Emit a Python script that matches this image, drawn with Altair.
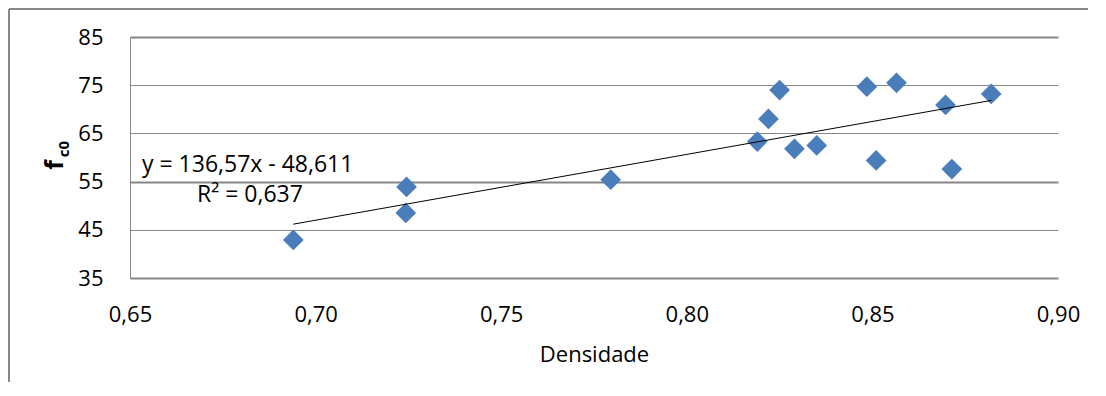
import altair as alt
import pandas as pd

# Data
densidade = [0.694, 0.7245, 0.7243, 0.7795, 0.819, 0.822, 0.825, 0.829, 0.835,
             0.8485, 0.851, 0.8565, 0.8697, 0.8714, 0.882]
fc0 = [42.9, 53.9, 48.5, 55.4, 63.3, 68.0, 74.0, 61.8, 62.5,
       74.7, 59.4, 75.5, 70.9, 57.6, 73.2]

slope = 136.57
intercept = -48.611
eq_text = "y = 136,57x - 48,611"
r2_text = "R² = 0,637"

x_ticks = [0.65, 0.70, 0.75, 0.80, 0.85, 0.90]
y_ticks = [35, 45, 55, 65, 75, 85]

FONT = "Open Sans"
GRID = "#868686"
BLUE = "#4a7ebb"

W, H = 928, 241

df = pd.DataFrame({"x": densidade, "y": fc0})
xmin, xmax = min(densidade), max(densidade)
trend = pd.DataFrame({"x": [xmin, xmax],
                      "y": [slope * xmin + intercept, slope * xmax + intercept]})

x_scale = alt.Scale(domain=[0.65, 0.90], nice=False, zero=False)
y_scale = alt.Scale(domain=[35, 85], nice=False, zero=False)

x_axis = alt.Axis(values=x_ticks, labelExpr="replace(format(datum.value, '.2f'), '.', ',')",
                  title="Densidade", domain=False, ticks=False, grid=False, labelFlush=False,
                  labelFont=FONT, labelFontSize=22, labelColor="black", labelPadding=26,
                  titleFont=FONT, titleFontSize=22, titleFontWeight="normal",
                  titleColor="black", titlePadding=19)
y_axis = alt.Axis(values=y_ticks, title=None, domain=True, domainColor=GRID, domainWidth=1,
                  ticks=False, grid=True, gridColor=GRID, labelFlush=False,
                  gridWidth={"condition": {"test": "datum.value == 85 || datum.value == 55 || datum.value == 35",
                                           "value": 2}, "value": 1},
                  gridOpacity=1,
                  labelFont=FONT, labelFontSize=22, labelColor="black", labelPadding=27)

points = alt.Chart(df).mark_point(shape="diamond", filled=True, size=430, color=BLUE, opacity=1).encode(
    x=alt.X("x:Q", scale=x_scale, axis=x_axis),
    y=alt.Y("y:Q", scale=y_scale, axis=y_axis),
)

line = alt.Chart(trend).mark_line(color="black", strokeWidth=1).encode(
    x=alt.X("x:Q", scale=x_scale), y=alt.Y("y:Q", scale=y_scale))

eq = alt.Chart(pd.DataFrame({"t": [eq_text]})).mark_text(
    font=FONT, fontSize=23, align="left", baseline="alphabetic", color="black").encode(
    text="t:N", x=alt.value(12), y=alt.value(135))
r2 = alt.Chart(pd.DataFrame({"t": [r2_text]})).mark_text(
    font=FONT, fontSize=23, align="left", baseline="alphabetic", color="black").encode(
    text="t:N", x=alt.value(67), y=alt.value(165))

ytitle_f = alt.Chart(pd.DataFrame({"t": ["f"]})).mark_text(
    font=FONT, fontSize=25, fontWeight="bold", angle=270, align="center", baseline="middle",
    color="black").encode(text="t:N", x=alt.value(-75), y=alt.value(128))
ytitle_sub = alt.Chart(pd.DataFrame({"t": ["c0"]})).mark_text(
    font=FONT, fontSize=15, fontWeight="bold", angle=270, align="center", baseline="middle",
    color="black").encode(text="t:N", x=alt.value(-66), y=alt.value(112))

frame_left = alt.Chart(pd.DataFrame({"a": [0]})).mark_rule(color=GRID, strokeWidth=2).encode(
    x=alt.value(-121), y=alt.value(-28), y2=alt.value(400))
frame_top = alt.Chart(pd.DataFrame({"a": [0]})).mark_rule(color=GRID, strokeWidth=2).encode(
    x=alt.value(-121), x2=alt.value(1000), y=alt.value(-28))

chart = alt.layer(frame_left, frame_top, points, line, eq, r2, ytitle_f, ytitle_sub).properties(
    width=W, height=H,
    padding={"left": 122, "top": 29, "right": 30, "bottom": 104},
    autosize=alt.AutoSizeParams(type="none"),
).configure_view(stroke=None)

chart.save("out.html", embed_options={"renderer": "svg", "actions": False})
